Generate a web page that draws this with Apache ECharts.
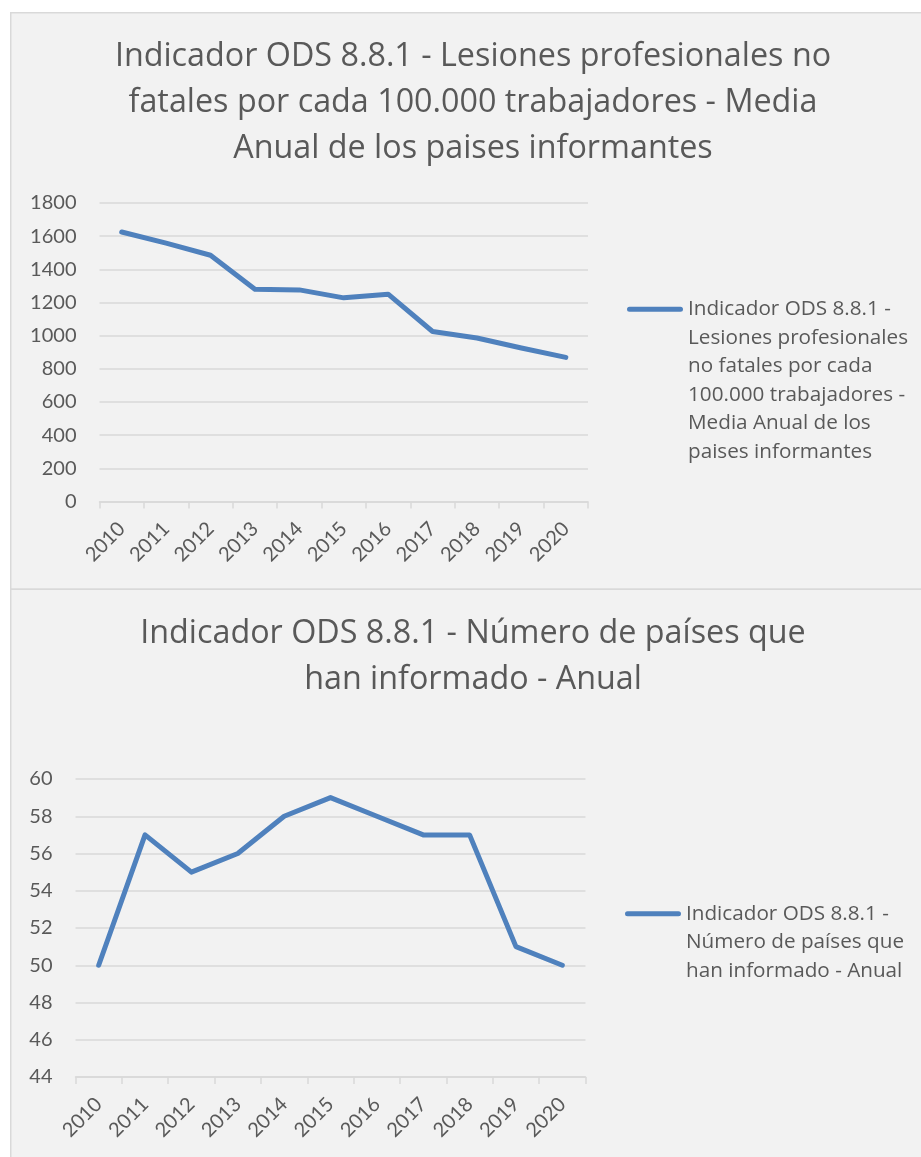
<!DOCTYPE html>
<html>
<head>
<meta charset="utf-8">
<script src="https://cdn.jsdelivr.net/npm/echarts@6/dist/echarts.min.js"></script>
<style>
html,body{margin:0;padding:0;background:#ffffff;}
#chart{width:921px;height:1157px;}
</style>
</head>
<body>
<div id="chart"></div>
<script>
// ---- data ----
var years = ['2010','2011','2012','2013','2014','2015','2016','2017','2018','2019','2020'];
var injuries = [1625, 1558, 1485, 1280, 1276, 1228, 1250, 1025, 986, 926, 869];
var countries = [50, 57, 55, 56, 58, 59, 58, 57, 57, 51, 50];

var title1 = 'Indicador ODS 8.8.1 - Lesiones profesionales no\nfatales por cada 100.000 trabajadores - Media\nAnual de los paises informantes';
var title2 = 'Indicador ODS 8.8.1 - Número de países que\nhan informado - Anual';
var series1Name = 'Indicador ODS 8.8.1 - Lesiones profesionales no fatales por cada 100.000 trabajadores - Media Anual de los paises informantes';
var series2Name = 'Indicador ODS 8.8.1 - Número de países que han informado - Anual';
var legend1Lines = ['Indicador ODS 8.8.1 -', 'Lesiones profesionales', 'no fatales por cada', '100.000 trabajadores -', 'Media Anual de los', 'paises informantes'];
var legend2Lines = ['Indicador ODS 8.8.1 -', 'Número de países que', 'han informado - Anual'];

// ---- styles ----
var FONT = 'Lato';
var TFONT = 'Open Sans';
var TXT = '#595959';
var GRIDC = '#d9d9d9';
var LINEC = '#4F81BD';
var LH = 28.5;

function iconPath(lines){
  var h = lines * LH, c = LH / 2;
  return 'path://M2.5,' + (c-2.5) + ' L53.5,' + (c-2.5) + ' A2.5,2.5 0 0 1 53.5,' + (c+2.5) +
    ' L2.5,' + (c+2.5) + ' A2.5,2.5 0 0 1 2.5,' + (c-2.5) + ' Z M0,0 L0.01,0 L0,0.01 Z M56,' + h + ' L55.99,' + h + ' L56,' + (h-0.01) + ' Z';
}

function xAxisCfg(gi){
  return {
    type: 'category', gridIndex: gi, data: years, boundaryGap: true,
    axisLine: {show: true, lineStyle: {color: GRIDC, width: 1.5}},
    axisTick: {show: true, length: 7, lineStyle: {color: GRIDC, width: 1.5}},
    axisLabel: {rotate: 45, margin: 24, color: TXT, fontFamily: FONT, fontSize: 20, interval: 0},
    splitLine: {show: false}
  };
}
function yAxisCfg(gi, min, max, itv){
  return {
    type: 'value', gridIndex: gi, min: min, max: max, interval: itv,
    axisLine: {show: false}, axisTick: {show: false},
    axisLabel: {margin: 23, color: TXT, fontFamily: FONT, fontSize: 20,
                formatter: function(v){ return String(v); }},
    splitLine: {show: true, lineStyle: {color: GRIDC, width: 1.5}}
  };
}

var chart = echarts.init(document.getElementById('chart'), null, {renderer: 'canvas'});
chart.setOption({
  backgroundColor: '#ffffff',
  animation: false,
  graphic: [
    {type: 'rect', silent: true, z: -10, shape: {x: 10.75, y: 12.75, width: 930, height: 576.5},
     style: {fill: '#f2f2f2', stroke: GRIDC, lineWidth: 1.5}},
    {type: 'rect', silent: true, z: -10, shape: {x: 10.75, y: 589.25, width: 930, height: 600},
     style: {fill: '#f2f2f2', stroke: GRIDC, lineWidth: 1.5}}
  ],
  title: [
    {text: title1, left: 473, top: 34, padding: 0, textAlign: 'center',
     textStyle: {color: TXT, fontFamily: TFONT, fontSize: 32.3, fontWeight: 'normal', lineHeight: 46}},
    {text: title2, left: 473, top: 611, padding: 0, textAlign: 'center',
     textStyle: {color: TXT, fontFamily: TFONT, fontSize: 32.3, fontWeight: 'normal', lineHeight: 46}}
  ],
  legend: [
    {data: [series1Name], left: 627, top: 295, padding: 0, orient: 'vertical',
     itemWidth: 56, itemHeight: legend1Lines.length * LH, icon: iconPath(legend1Lines.length),
     itemStyle: {color: LINEC, borderWidth: 0},
     formatter: function(){ return legend1Lines.join('\n'); },
     textStyle: {color: TXT, fontFamily: TFONT, fontSize: 20.7, lineHeight: LH}},
    {data: [series2Name], left: 625, top: 899.5, padding: 0, orient: 'vertical',
     itemWidth: 56, itemHeight: legend2Lines.length * LH, icon: iconPath(legend2Lines.length),
     itemStyle: {color: LINEC, borderWidth: 0},
     formatter: function(){ return legend2Lines.join('\n'); },
     textStyle: {color: TXT, fontFamily: TFONT, fontSize: 20.7, lineHeight: LH}}
  ],
  grid: [
    {left: 99.5, top: 203, width: 488.5, height: 298.5, containLabel: false},
    {left: 75.5, top: 779, width: 510, height: 298, containLabel: false}
  ],
  xAxis: [xAxisCfg(0), xAxisCfg(1)],
  yAxis: [yAxisCfg(0, 0, 1800, 200), yAxisCfg(1, 44, 60, 2)],
  series: [
    {name: series1Name, type: 'line', xAxisIndex: 0, yAxisIndex: 0, data: injuries,
     showSymbol: false, symbol: 'none', color: LINEC,
     lineStyle: {color: LINEC, width: 5, cap: 'round', join: 'round'}},
    {name: series2Name, type: 'line', xAxisIndex: 1, yAxisIndex: 1, data: countries,
     showSymbol: false, symbol: 'none', color: LINEC,
     lineStyle: {color: LINEC, width: 5, cap: 'round', join: 'round'}}
  ]
});
</script>
</body>
</html>
